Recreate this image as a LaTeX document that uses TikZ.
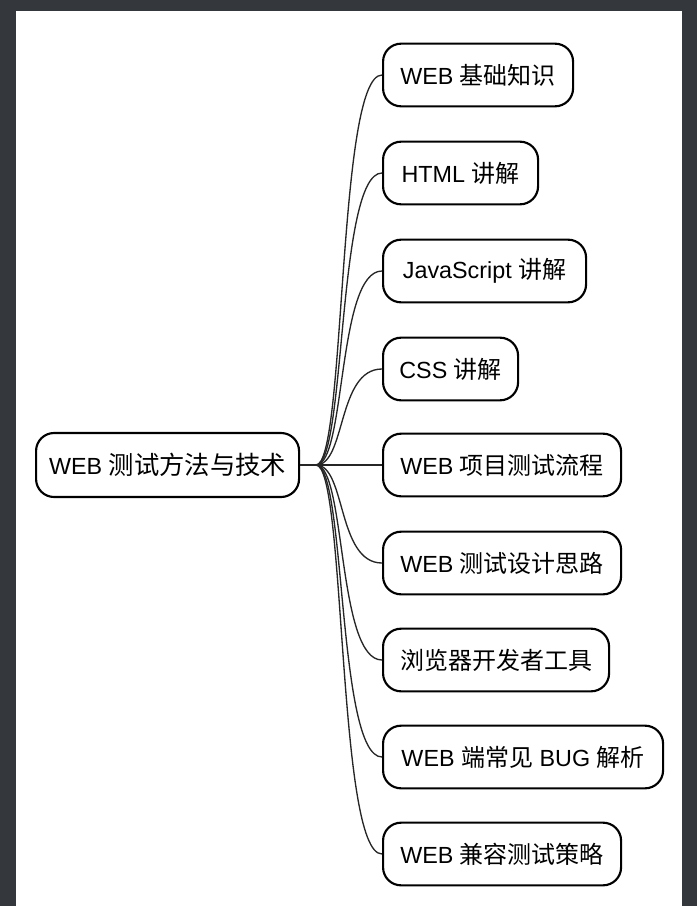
\documentclass[tikz,border=0pt]{standalone}
\usepackage{fontspec}
\setmainfont{Liberation Sans}
\newfontfamily\cjkfont{Noto Sans CJK SC}
\newcommand{\zh}[1]{{\cjkfont\fontsize{18pt}{20pt}\selectfont #1}}
\definecolor{frame}{RGB}{52,55,60}
\begin{document}
\begin{tikzpicture}[x=0.75pt,y=-0.75pt,
  box/.style={draw=black, line width=1.6pt, rounded corners=13.5pt, fill=white,
    minimum height=47pt, inner xsep=0pt, font=\fontsize{17.5pt}{20pt}\selectfont, anchor=west},
  link/.style={draw=black!85, line width=1pt}]
\fill[frame] (0,0) rectangle (697,906);
\fill[white] (16,11) rectangle (682,906);
\useasboundingbox (0,0) rectangle (697,906);
\node[box, minimum width=197.25pt, minimum height=48pt] (c) at (35,465) {WEB {\cjkfont\fontsize{19pt}{20pt}\selectfont 测试方法与技术}};
\coordinate (j) at (316,465);
\node[box, minimum width=142.5pt] (n1) at (382,75) {WEB \zh{基础知识}};
\node[box, minimum width=116.25pt] (n2) at (382,173) {HTML \zh{讲解}};
\node[box, minimum width=152.25pt] (n3) at (382,271) {JavaScript \zh{讲解}};
\node[box, minimum width=101.25pt] (n4) at (382,369) {CSS \zh{讲解}};
\node[box, minimum width=178.5pt] (n5) at (382,465) {WEB \zh{项目测试流程}};
\node[box, minimum width=178.5pt] (n6) at (382,563) {WEB \zh{测试设计思路}};
\node[box, minimum width=169.5pt] (n7) at (382,660) {\zh{浏览器开发者工具}};
\node[box, minimum width=210pt] (n8) at (382,757) {WEB \zh{端常见} BUG \zh{解析}};
\node[box, minimum width=178.5pt] (n9) at (382,854) {WEB \zh{兼容测试策略}};
\draw[link] (c.east) -- (j);
\foreach \n in {n1,n2,n3,n4,n6,n7,n8,n9}{
  \draw[link] (j) .. controls ([xshift=22.5pt]j) and ([xshift=-33.75pt]\n.west) .. (\n.west);
}
\draw[link] (j) -- (n5.west);
\end{tikzpicture}
\end{document}
